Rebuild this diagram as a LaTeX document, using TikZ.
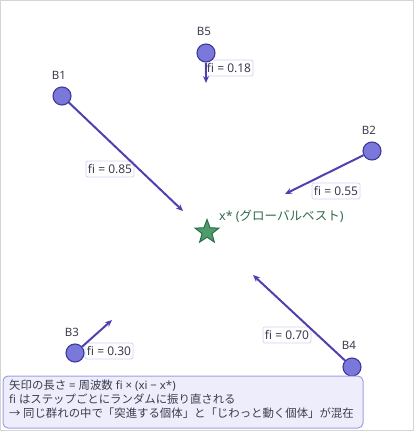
\documentclass[tikz,border=0pt]{standalone}
\usepackage{fontspec}
\setmainfont{Noto Sans}
\newfontfamily\jp{Noto Sans CJK JP}
\usetikzlibrary{arrows.meta,shapes.geometric}
\definecolor{bird}{HTML}{7B78DB}
\definecolor{birdline}{HTML}{3E3A9A}
\definecolor{arr}{HTML}{4F40B0}
\definecolor{lblborder}{HTML}{D2D2F4}
\definecolor{txt}{HTML}{3C3C50}
\definecolor{starfill}{HTML}{4E9B6C}
\definecolor{starline}{HTML}{2E6B47}
\definecolor{notefill}{HTML}{EDEDFB}
\definecolor{noteline}{HTML}{A09FE2}
\definecolor{frame}{HTML}{D4D4D4}
\tikzset{
  bird/.style={circle, fill=bird, draw=birdline, line width=1.1pt, minimum size=18pt, inner sep=0pt},
  bname/.style={text=txt, font=\fontsize{11.5}{13}\selectfont, inner sep=0pt},
  move/.style={draw=arr, line width=2pt, -{Stealth[length=7pt,width=6pt]}},
  filbl/.style={fill=white, draw=lblborder, line width=0.8pt, rounded corners=2pt, text=txt, font=\fontsize{12}{13}\selectfont, inner sep=2pt, minimum height=16pt},
}
\begin{document}
\begin{tikzpicture}[x=1pt,y=-1pt]
\useasboundingbox (0,0) rectangle (415,433);
\draw[frame, line width=1pt] (0.5,0.5) rectangle (413.5,430.5);
% labels (under the arrows)
\node[filbl] (l1) at (110,169) {fi = 0.85};
\node[filbl] (l5) at (229,68) {fi = 0.18};
\node[filbl] (l2) at (336,191) {fi = 0.55};
\node[filbl] (l3) at (109,351) {fi = 0.30};
\node[filbl] (l4) at (287,335) {fi = 0.70};
% birds
\node[bird] (B1) at (62,96) {};
\node[bird] (B5) at (206,53) {};
\node[bird] (B2) at (372,151) {};
\node[bird] (B3) at (75,353) {};
\node[bird] (B4) at (352,367) {};
\node[bname] (n1) at (59,75) {B1};
\node[bname] (n5) at (204,31) {B5};
\node[bname] (n2) at (369,130) {B2};
\node[bname] (n3) at (72,332) {B3};
\node[bname] (n4) at (349,345) {B4};
% star
\node[star, star points=5, star point ratio=2.4, minimum size=25pt, inner sep=0pt, fill=starfill, draw=starline, line width=1pt] (xs) at (207,232) {};
\node[anchor=west, text=starline, font=\fontsize{12.5}{14}\selectfont, inner sep=0pt] (xsl) at (219,216) {x* ({\jp グローバルベスト})};
% arrow ends
\coordinate (e1) at (183,211);
\coordinate (e5) at (206,83);
\coordinate (e2) at (285,194);
\coordinate (e3) at (112,320);
\coordinate (e4) at (253,275);
\draw[move] (B1) -- (e1);
\draw[move] (B5) -- (e5);
\draw[move] (B2) -- (e2);
\draw[move] (B3) -- (e3);
\draw[move] (B4) -- (e4);
% note
\draw[fill=notefill, draw=noteline, line width=1pt, rounded corners=5pt] (3,376) rectangle (363,428);
\node[anchor=north west, align=left, text=txt, font=\fontsize{11.4}{14}\selectfont, inner sep=0pt] (note) at (9,380)
{{\jp 矢印の長さ} = {\jp 周波数} fi × (xi − x*)\\
fi {\jp はステップごとにランダムに振り直される}\\
{\jp → 同じ群れの中で「突進する個体」と「じわっと動く個体」が混在}};
\end{tikzpicture}
\end{document}
